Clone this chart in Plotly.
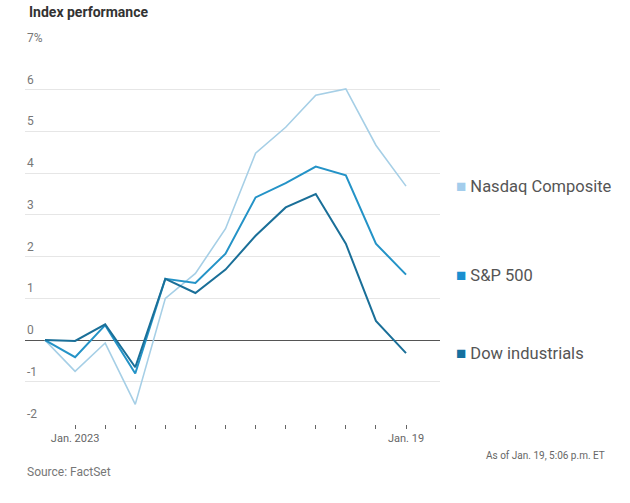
import plotly.graph_objects as go

dates = ["2022-12-30", "2023-01-03", "2023-01-04", "2023-01-05", "2023-01-06",
         "2023-01-09", "2023-01-10", "2023-01-11", "2023-01-12", "2023-01-13",
         "2023-01-17", "2023-01-18", "2023-01-19"]
nasdaq = [0, -0.75, -0.07, -1.54, 1.0, 1.6, 2.67, 4.48, 5.1, 5.87, 6.02, 4.67, 3.69]
sp500 = [0, -0.41, 0.36, -0.80, 1.47, 1.37, 2.07, 3.42, 3.76, 4.16, 3.95, 2.31, 1.57]
dow = [0, -0.02, 0.38, -0.65, 1.47, 1.13, 1.69, 2.50, 3.18, 3.50, 2.31, 0.46, -0.31]

series_names = ["Nasdaq Composite", "S&P 500", "Dow industrials"]
line_colors = ["#a6cfe6", "#2493c7", "#1a6f98"]
square_colors = ["#a3cdec", "#1a8fd0", "#15709f"]
line_widths = [1.6, 2.0, 2.0]

y_ticks = [7, 6, 5, 4, 3, 2, 1, 0, -1, -2]
y_tick_labels = ["7%", "6", "5", "4", "3", "2", "1", "0", "-1", "-2"]
x_tick_labels = ["Jan. 2023", "", "", "", "", "", "", "", "", "", "", "Jan. 19"]

fig = go.Figure()
for name, vals, col, w in zip(series_names, [nasdaq, sp500, dow], line_colors, line_widths):
    fig.add_trace(go.Scatter(x=dates, y=vals, mode="lines", name=name,
                             line=dict(color=col, width=w), showlegend=False))

annotations = []
for v, t in zip(y_ticks, y_tick_labels):
    annotations.append(dict(x=0.0, xref="paper", y=v, yref="y", text=t,
                            showarrow=False, xanchor="left", yanchor="bottom",
                            yshift=1, font=dict(family="Roboto", size=12, color="#777")))

for name, vals, col in zip(series_names, [nasdaq, sp500, dow], square_colors):
    annotations.append(dict(x=1.033, xref="paper", y=vals[-1], yref="y",
                            text=f"<span style='color:{col};font-size:17px'>■</span> {name}",
                            showarrow=False, xanchor="left", yanchor="middle",
                            font=dict(family="Roboto", size=16.5, color="#555")))

annotations += [
    dict(x=0.005, y=1.0, xref="paper", yref="paper", yshift=36,
         text="<b>Index performance</b>", showarrow=False,
         xanchor="left", yanchor="middle",
         font=dict(family="Roboto", size=14, color="#333")),
    dict(x=0.0, y=0, xref="paper", yref="paper", yshift=-48,
         text="Source: FactSet", showarrow=False, xanchor="left",
         yanchor="middle", font=dict(family="Roboto", size=12, color="#777")),
    dict(x=1.0, y=0, xref="paper", yref="paper", yshift=-31, xshift=167,
         text="As of Jan. 19, 5:06 p.m. ET", showarrow=False, xanchor="right",
         yanchor="middle", font=dict(family="Roboto", size=10, color="#666")),
]

fig.update_layout(
    width=630, height=503,
    margin=dict(l=25, r=190, t=48, b=79, autoexpand=False),
    paper_bgcolor="white", plot_bgcolor="white",
    xaxis=dict(type="category", range=[-0.665, 13.13], tickmode="array",
               tickvals=dates[1:], ticktext=x_tick_labels, ticks="outside",
               ticklen=4, tickcolor="#666", tickwidth=1, showgrid=False,
               showline=False, zeroline=False,
               tickfont=dict(family="Roboto", size=11, color="#666")),
    yaxis=dict(range=[-2.01, 7.0], tickvals=y_ticks, showticklabels=False,
               showgrid=True, gridcolor="#e6e6e6", gridwidth=1,
               zeroline=True, zerolinecolor="#555", zerolinewidth=1,
               showline=False),
    annotations=annotations,
    showlegend=False,
)

fig.write_html("out.html", config={"displayModeBar": False},
               post_script="document.body.style.margin='0';document.body.style.overflow='hidden';")
